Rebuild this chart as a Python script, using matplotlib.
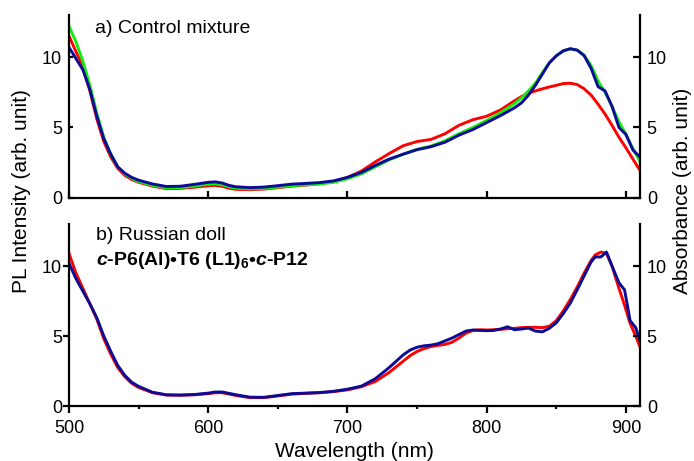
import matplotlib
matplotlib.use("Agg")
import matplotlib.pyplot as plt
from matplotlib.ticker import MultipleLocator

plt.rcParams['font.family'] = ['Liberation Sans', 'DejaVu Sans']
plt.rcParams['mathtext.fontset'] = 'custom'
plt.rcParams['mathtext.rm'] = 'Liberation Sans'
plt.rcParams['mathtext.bf'] = 'Liberation Sans:bold'
plt.rcParams['mathtext.it'] = 'Liberation Sans:italic'
plt.rcParams['mathtext.bfit'] = 'Liberation Sans:italic:bold'

# ---------------- data: panel a (control mixture) ----------------
wl_a = [500, 505, 510, 515, 520, 525, 530, 535, 540, 545, 550, 560, 570, 580, 590,
        600, 605, 610, 615, 620, 630, 640, 650, 660, 670, 680, 690, 700, 710, 720,
        730, 740, 750, 760, 770, 780, 790, 800, 810, 820, 825, 830, 835, 840, 845,
        850, 855, 860, 865, 870, 875, 880, 885, 890, 895, 900, 905, 910]
red_a = [11.5, 10.4, 9.3, 7.6, 5.6, 4.0, 2.9, 2.1, 1.6, 1.3, 1.1, 0.83, 0.65, 0.67, 0.75,
         0.85, 0.88, 0.82, 0.68, 0.6, 0.57, 0.62, 0.72, 0.83, 0.9, 1.0, 1.15, 1.45, 1.9, 2.55,
         3.15, 3.7, 4.0, 4.15, 4.55, 5.15, 5.55, 5.8, 6.25, 6.9, 7.2, 7.45, 7.6, 7.75, 7.88,
         8.0, 8.12, 8.15, 8.05, 7.75, 7.3, 6.65, 5.95, 5.15, 4.3, 3.55, 2.75, 1.96]
green_a = [12.2, 11.1, 9.7, 8.0, 6.0, 4.3, 3.1, 2.2, 1.7, 1.38, 1.15, 0.88, 0.7, 0.72, 0.83,
           0.97, 1.0, 0.93, 0.78, 0.68, 0.63, 0.67, 0.76, 0.85, 0.92, 0.98, 1.1, 1.35, 1.7, 2.2,
           2.7, 3.1, 3.45, 3.68, 4.05, 4.55, 5.0, 5.5, 6.05, 6.7, 7.1, 7.6, 8.15, 8.9, 9.6,
           10.1, 10.45, 10.6, 10.5, 10.15, 9.4, 8.3, 7.5, 6.5, 5.4, 4.5, 3.5, 2.6]
blue_a = [10.7, 9.9, 9.1, 7.7, 5.8, 4.2, 3.1, 2.2, 1.75, 1.45, 1.25, 0.98, 0.8, 0.82, 0.95,
          1.1, 1.13, 1.05, 0.88, 0.78, 0.72, 0.76, 0.86, 0.97, 1.02, 1.08, 1.2, 1.45, 1.8, 2.3,
          2.75, 3.1, 3.42, 3.63, 3.95, 4.45, 4.85, 5.35, 5.85, 6.4, 6.75, 7.3, 8.0, 8.8, 9.6,
          10.1, 10.45, 10.6, 10.5, 10.1, 9.2, 7.9, 7.6, 6.5, 5.0, 4.5, 3.4, 2.9]

# ---------------- data: panel b (Russian doll) ----------------
wl_b = [500, 505, 510, 515, 520, 525, 530, 535, 540, 545, 550, 560, 570, 580, 590,
        600, 605, 610, 615, 620, 630, 640, 650, 660, 670, 680, 690, 700, 710, 720,
        730, 740, 745, 750, 755, 760, 765, 770, 775, 780, 785, 790, 795, 800, 805,
        810, 815, 820, 825, 830, 835, 840, 845, 850, 855, 860, 865, 870, 875, 878,
        882, 886, 890, 895, 899, 903, 907, 910]
red_b = [10.9, 9.5, 8.4, 7.3, 6.2, 4.8, 3.7, 2.75, 2.1, 1.62, 1.32, 0.95, 0.78, 0.77, 0.8,
         0.88, 0.95, 0.95, 0.85, 0.75, 0.6, 0.6, 0.72, 0.85, 0.9, 0.95, 1.03, 1.15, 1.38, 1.75,
         2.4, 3.2, 3.6, 3.9, 4.1, 4.25, 4.33, 4.4, 4.55, 4.85, 5.2, 5.4, 5.45, 5.43, 5.45,
         5.48, 5.52, 5.55, 5.6, 5.62, 5.62, 5.6, 5.7, 6.1, 6.8, 7.6, 8.5, 9.5, 10.4, 10.8,
         11.0, 10.9, 10.0, 8.4, 7.2, 5.9, 5.0, 4.24]
blue_b = [10.2, 9.1, 8.2, 7.3, 6.3, 5.0, 3.9, 2.9, 2.2, 1.7, 1.4, 0.98, 0.8, 0.78, 0.82,
          0.92, 1.0, 1.0, 0.9, 0.8, 0.63, 0.62, 0.75, 0.88, 0.92, 0.96, 1.05, 1.2, 1.42, 1.95,
          2.75, 3.65, 4.0, 4.2, 4.3, 4.35, 4.45, 4.65, 4.85, 5.1, 5.35, 5.43, 5.4, 5.38, 5.4,
          5.5, 5.66, 5.45, 5.5, 5.57, 5.35, 5.3, 5.55, 5.95, 6.6, 7.35, 8.3, 9.3, 10.3, 10.65,
          10.65, 11.0, 10.0, 8.8, 8.3, 6.1, 5.6, 4.7]

x_ticks = [500, 600, 700, 800, 900]
y_ticks = [0, 5, 10]

RED = '#ff0000'
GREEN = '#11ee11'
BLUE = '#0b0b96'
LW = 2.1
SPW = 1.6

fig = plt.figure(figsize=(6.94, 4.61), dpi=100)
ax_a = fig.add_axes([0.0994, 0.571, 0.8226, 0.3965])
ax_b = fig.add_axes([0.0994, 0.1193, 0.8226, 0.3947])

ax_a.plot(wl_a, red_a, color=RED, lw=LW)
ax_a.plot(wl_a, green_a, color=GREEN, lw=LW)
ax_a.plot(wl_a, blue_a, color=BLUE, lw=LW)

ax_b.plot(wl_b, red_b, color=RED, lw=LW)
ax_b.plot(wl_b, blue_b, color=BLUE, lw=LW)

for ax in (ax_a, ax_b):
    ax.set_xlim(500, 910)
    ax.set_ylim(0, 13)
    ax.set_xticks(x_ticks)
    ax.set_yticks(y_ticks)
    ax.spines['top'].set_visible(False)
    ax.spines['right'].set_visible(False)
    for s in ('left', 'bottom'):
        ax.spines[s].set_linewidth(SPW)
    tw = ax.twinx()
    tw.set_ylim(0, 13)
    tw.set_yticks(y_ticks)
    tw.spines['top'].set_visible(False)
    tw.spines['left'].set_visible(False)
    tw.spines['bottom'].set_visible(False)
    tw.spines['right'].set_linewidth(SPW)
    tw.tick_params(axis='y', direction='in', length=5, width=SPW, labelsize=13, pad=5)

ax_a.tick_params(axis='x', direction='in', length=5, width=SPW, labelbottom=False)
ax_a.tick_params(axis='y', direction='in', length=3, width=SPW, labelsize=13, pad=5)

ax_b.xaxis.set_minor_locator(MultipleLocator(50))
ax_b.tick_params(axis='x', which='major', direction='out', length=5, width=SPW, labelsize=13, pad=5)
ax_b.tick_params(axis='x', which='minor', direction='out', length=2.5, width=SPW)
ax_b.tick_params(axis='y', direction='out', length=4, width=SPW, labelsize=13, pad=1)

ax_a.text(0.045, 0.97, 'a) Control mixture', transform=ax_a.transAxes,
          fontsize=14, ha='left', va='top')
ax_b.text(0.047, 0.985, 'b) Russian doll', transform=ax_b.transAxes,
          fontsize=14, ha='left', va='top')
ax_b.text(0.047, 0.86,
          r'$\mathbfit{c}$-P6(Al)•T6 (L1)$_\mathbf{6}$•$\mathbfit{c}$-P12',
          transform=ax_b.transAxes, fontsize=14, fontweight='bold', ha='left', va='top')

ax_b.set_xlabel('Wavelength (nm)', fontsize=15, labelpad=4)

fig.text(0.031, 0.586, 'PL Intensity (arb. unit)', rotation=90, fontsize=15,
         ha='center', va='center')
fig.text(0.984, 0.586, 'Absorbance (arb. unit)', rotation=90, fontsize=15,
         ha='center', va='center')

fig.savefig('out.png', dpi=100)
